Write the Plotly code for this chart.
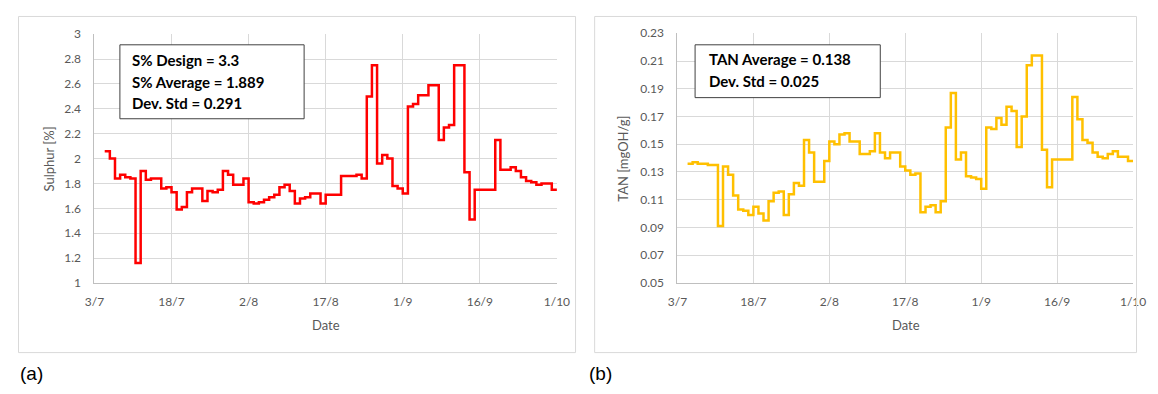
import plotly.graph_objects as go

YEAR = "2023"

# Sulphur (%) step series: change dates (dd-mm) and values
s_dates = ["05-07", "06-07", "07-07", "08-07", "09-07", "10-07", "11-07", "12-07", "13-07", "14-07",
           "16-07", "17-07", "18-07", "19-07", "20-07", "21-07", "22-07", "24-07", "25-07", "26-07",
           "27-07", "28-07", "29-07", "30-07", "01-08", "02-08", "03-08", "04-08", "05-08", "06-08",
           "07-08", "08-08", "09-08", "10-08", "11-08", "12-08", "13-08", "14-08", "16-08", "17-08",
           "20-08", "23-08", "24-08", "25-08", "26-08", "27-08", "28-08", "29-08", "30-08", "31-08",
           "01-09", "02-09", "03-09", "04-09", "06-09", "08-09", "09-09", "10-09", "11-09", "13-09",
           "14-09", "15-09", "19-09", "20-09", "22-09", "23-09", "24-09", "25-09", "26-09", "27-09",
           "28-09", "30-09", "01-10"]
s_values = [2.06, 2.00, 1.84, 1.87, 1.85, 1.84, 1.16, 1.90, 1.83, 1.84,
            1.76, 1.77, 1.73, 1.59, 1.61, 1.73, 1.76, 1.66, 1.74, 1.73,
            1.75, 1.90, 1.87, 1.79, 1.84, 1.65, 1.64, 1.65, 1.67, 1.69,
            1.71, 1.77, 1.79, 1.74, 1.64, 1.68, 1.69, 1.72, 1.64, 1.71,
            1.86, 1.87, 1.84, 2.50, 2.75, 1.96, 2.03, 2.00, 1.78, 1.76,
            1.72, 2.42, 2.44, 2.51, 2.59, 2.15, 2.25, 2.27, 2.75, 1.89,
            1.51, 1.75, 2.15, 1.91, 1.93, 1.90, 1.85, 1.82, 1.81, 1.79,
            1.80, 1.75, 1.75]

# TAN (mgOH/g) step series
t_dates = ["05-07", "06-07", "07-07", "09-07", "11-07", "12-07", "13-07", "14-07", "15-07", "16-07",
           "17-07", "18-07", "19-07", "20-07", "21-07", "22-07", "23-07", "24-07", "25-07", "26-07",
           "27-07", "28-07", "29-07", "30-07", "01-08", "02-08", "03-08", "04-08", "05-08", "06-08",
           "08-08", "10-08", "11-08", "12-08", "13-08", "14-08", "16-08", "17-08", "18-08", "19-08",
           "20-08", "21-08", "22-08", "23-08", "24-08", "25-08", "26-08", "27-08", "28-08", "29-08",
           "30-08", "31-08", "01-09", "02-09", "03-09", "04-09", "05-09", "06-09", "07-09", "08-09",
           "09-09", "10-09", "11-09", "13-09", "14-09", "15-09", "19-09", "20-09", "21-09", "22-09",
           "23-09", "24-09", "25-09", "26-09", "27-09", "28-09", "30-09", "01-10"]
t_values = [0.136, 0.137, 0.136, 0.135, 0.091, 0.134, 0.128, 0.113, 0.103, 0.102,
            0.099, 0.105, 0.100, 0.095, 0.109, 0.115, 0.116, 0.099, 0.114, 0.122,
            0.120, 0.153, 0.144, 0.123, 0.138, 0.152, 0.150, 0.157, 0.158, 0.152,
            0.143, 0.145, 0.158, 0.144, 0.140, 0.144, 0.134, 0.131, 0.128, 0.129,
            0.101, 0.105, 0.106, 0.101, 0.109, 0.162, 0.187, 0.139, 0.144, 0.127,
            0.126, 0.125, 0.118, 0.162, 0.161, 0.169, 0.164, 0.177, 0.174, 0.148,
            0.170, 0.207, 0.214, 0.146, 0.119, 0.139, 0.184, 0.168, 0.153, 0.151,
            0.144, 0.141, 0.140, 0.143, 0.145, 0.141, 0.138, 0.138]

s_text = ["S% Design = 3.3", "S% Average = 1.889", "Dev. Std = 0.291"]
t_text = ["TAN Average = 0.138", "Dev. Std = 0.025"]


def iso(d):
    dd, mm = d.split("-")
    return f"{YEAR}-{mm}-{dd}"


# page is 1158x394 with an 8px body margin around the figure
OFF = 8
W, H = 1158 - 2 * OFF, 394 - 2 * OFF


def px(x):
    return (x - OFF) / W


def py(y):
    return 1 - (y - OFF) / H


FONT = "Lato, Carlito, Calibri, sans-serif"
GRID = "#d9d9d9"
TICKC = "#595959"

fig = go.Figure()
fig.add_trace(go.Scatter(x=[iso(d) for d in s_dates], y=s_values, mode="lines",
                         line=dict(color="#ff0000", width=2.5, shape="hv"),
                         xaxis="x", yaxis="y", showlegend=False))
fig.add_trace(go.Scatter(x=[iso(d) for d in t_dates], y=t_values, mode="lines",
                         line=dict(color="#ffc000", width=2.5, shape="hv"),
                         xaxis="x2", yaxis="y2", showlegend=False))

xcommon = dict(type="date", range=[f"{YEAR}-07-03", f"{YEAR}-10-01"],
               tick0=f"{YEAR}-07-03", dtick=15 * 86400000, tickformat="%-d/%-m",
               showgrid=True, gridcolor=GRID, gridwidth=1, showline=True, linecolor="#bfbfbf",
               linewidth=1, ticks="", zeroline=False, fixedrange=True,
               tickfont=dict(family=FONT, size=12, color=TICKC), ticklabelstandoff=8)
ycommon = dict(showgrid=True, gridcolor=GRID, gridwidth=1, showline=True, linecolor="#bfbfbf",
               linewidth=1, ticks="", zeroline=False, fixedrange=True,
               tickfont=dict(family=FONT, size=12, color=TICKC), ticklabelstandoff=10)

fig.update_layout(
    width=W, height=H, margin=dict(l=0, r=0, t=0, b=0),
    paper_bgcolor="white", plot_bgcolor="white",
    xaxis=dict(xcommon, domain=[px(86), px(558)], anchor="y"),
    yaxis=dict(ycommon, domain=[py(286), py(27)], range=[1, 3], dtick=0.2, anchor="x",
               tickformat="~g"),
    xaxis2=dict(xcommon, domain=[px(681), px(1146)], anchor="y2"),
    yaxis2=dict(ycommon, domain=[py(286), py(26)], range=[0.05, 0.23], dtick=0.02, tick0=0.05,
                anchor="x2", tickformat=".2f"),
)

shapes = [
    dict(type="rect", xref="paper", yref="paper", x0=px(8.5), x1=px(577), y0=py(358.5), y1=py(8.5),
         line=dict(color="#d9d9d9", width=1)),
    dict(type="rect", xref="paper", yref="paper", x0=px(596.5), x1=px(1149.5), y0=py(358.5), y1=py(8.5),
         line=dict(color="#d9d9d9", width=1)),
    dict(type="rect", xref="paper", yref="paper", x0=px(112), x1=px(300), y0=py(115), y1=py(38),
         fillcolor="white", line=dict(color="#404040", width=1), layer="above"),
    dict(type="rect", xref="paper", yref="paper", x0=px(699), x1=px(888), y0=py(93), y1=py(38),
         fillcolor="white", line=dict(color="#404040", width=1), layer="above"),
]

ann = []
for i, t in enumerate(s_text):
    ann.append(dict(text=f"<b>{t}</b>", xref="paper", yref="paper", x=px(122), y=py(54 + i * 22.5),
                    xanchor="left", yanchor="middle", showarrow=False,
                    font=dict(family=FONT, size=15, color="black")))
for i, t in enumerate(t_text):
    ann.append(dict(text=f"<b>{t}</b>", xref="paper", yref="paper", x=px(711), y=py(53 + i * 23),
                    xanchor="left", yanchor="middle", showarrow=False,
                    font=dict(family=FONT, size=15, color="black")))

ann += [
    dict(text="Date", xref="paper", yref="paper", x=px(322), y=py(330), xanchor="center",
         yanchor="middle", showarrow=False, font=dict(family=FONT, size=13, color=TICKC)),
    dict(text="Date", xref="paper", yref="paper", x=px(914), y=py(330), xanchor="center",
         yanchor="middle", showarrow=False, font=dict(family=FONT, size=13, color=TICKC)),
    dict(text="Sulphur [%]", xref="paper", yref="paper", x=px(40), y=py(157), xanchor="center",
         yanchor="middle", textangle=-90, showarrow=False, font=dict(family=FONT, size=13, color=TICKC)),
    dict(text="TAN [mgOH/g]", xref="paper", yref="paper", x=px(626), y=py(157), xanchor="center",
         yanchor="middle", textangle=-90, showarrow=False, font=dict(family=FONT, size=13, color=TICKC)),
    dict(text="(a)", xref="paper", yref="paper", x=px(8), y=py(380), xanchor="left",
         yanchor="middle", showarrow=False, font=dict(family="Liberation Sans, Arial, sans-serif", size=19, color="black")),
    dict(text="(b)", xref="paper", yref="paper", x=px(589), y=py(380), xanchor="left",
         yanchor="middle", showarrow=False, font=dict(family="Liberation Sans, Arial, sans-serif", size=19, color="black")),
]

fig.update_layout(shapes=shapes, annotations=ann)
fig.write_html("out.html", config={"displayModeBar": False})
